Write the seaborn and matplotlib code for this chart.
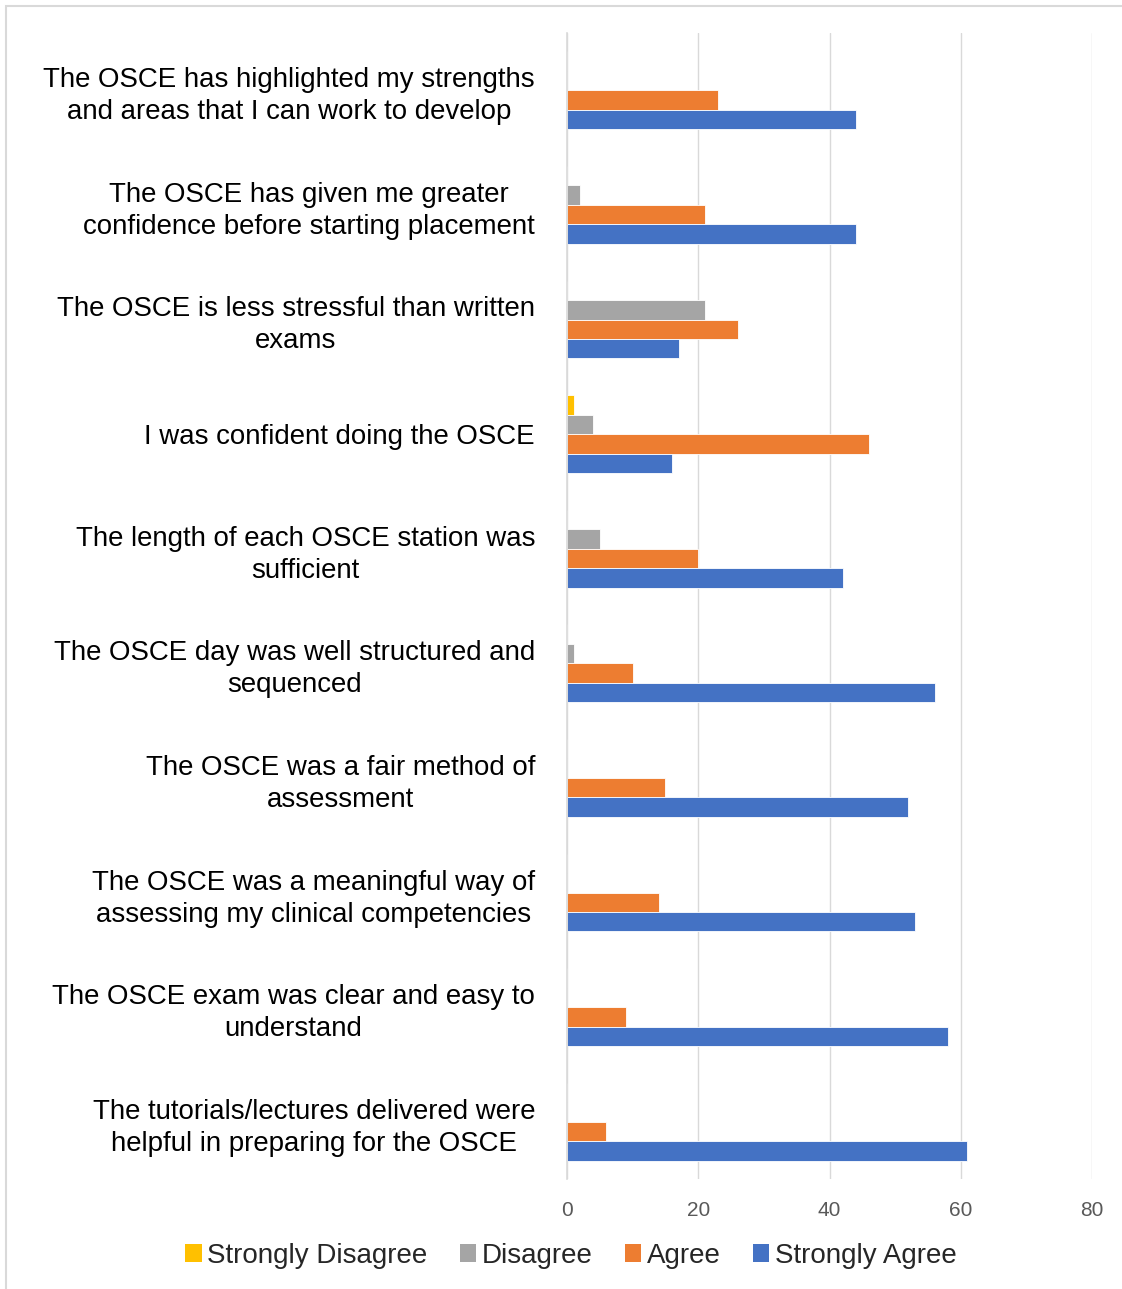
import matplotlib
matplotlib.use("Agg")
import matplotlib.pyplot as plt
import matplotlib.patches as mpatches
import seaborn as sns
import pandas as pd

categories = [
    "The OSCE has highlighted my strengths\nand areas that I can work to develop",
    "The OSCE has given me greater\nconfidence before starting placement",
    "The OSCE is less stressful than written\nexams",
    "I was confident doing the OSCE",
    "The length of each OSCE station was\nsufficient",
    "The OSCE day was well structured and\nsequenced",
    "The OSCE was a fair method of\nassessment",
    "The OSCE was a meaningful way of\nassessing my clinical competencies",
    "The OSCE exam was clear and easy to\nunderstand",
    "The tutorials/lectures delivered were\nhelpful in preparing for the OSCE",
]
series_names = ["Strongly Disagree", "Disagree", "Agree", "Strongly Agree"]
strongly_disagree = [0, 0, 0, 1, 0, 0, 0, 0, 0, 0]
disagree = [0, 2, 21, 4, 5, 1, 0, 0, 0, 0]
agree = [23, 21, 26, 46, 20, 10, 15, 14, 9, 6]
strongly_agree = [44, 44, 17, 16, 42, 56, 52, 53, 58, 61]
x_ticks = [0, 20, 40, 60, 80]
colors = ["#FFC000", "#A5A5A5", "#ED7D31", "#4472C4"]

rows = []
for name, vals in zip(series_names, [strongly_disagree, disagree, agree, strongly_agree]):
    for c, v in zip(categories, vals):
        rows.append({"category": c, "series": name, "value": v})
df = pd.DataFrame(rows)

sns.set_theme(style="white")
plt.rcParams["font.family"] = ["Liberation Sans", "DejaVu Sans"]

fig = plt.figure(figsize=(11.22, 12.89), dpi=100)
ax = fig.add_axes([567/1122, 1 - 1179/1289, (1092 - 567)/1122, (1179 - 33)/1289])

sns.barplot(data=df, y="category", x="value", hue="series", order=categories,
            hue_order=series_names, palette=colors, saturation=1, orient="h", width=0.68,
            edgecolor="white", linewidth=0.6, ax=ax, legend=False)

ax.set_xlim(0, 80)
ax.set_xticks(x_ticks)
ax.set_xlabel("")
ax.set_ylabel("")
ax.grid(axis="x", color="#d9d9d9", linewidth=1.0)
ax.set_axisbelow(True)
for s in ["top", "right", "bottom"]:
    ax.spines[s].set_visible(False)
ax.spines["left"].set_color("#d9d9d9")
ax.spines["left"].set_linewidth(1.2)
ax.tick_params(axis="x", length=0, labelsize=15, labelcolor="#595959", pad=16)
ax.tick_params(axis="y", length=0, labelsize=19.9, labelcolor="black", pad=23)
for lab in ax.get_yticklabels():
    lab.set_multialignment("center")
    lab.set_linespacing(1.3)

handles = [mpatches.Patch(facecolor=c, edgecolor="none", label=n) for c, n in zip(colors, series_names)]
fig.legend(handles=handles, loc="center", bbox_to_anchor=(571/1122, 1 - 1256/1289), ncol=4,
           frameon=False, fontsize=20, handlelength=0.6, handleheight=0.6,
           handletextpad=0.2, columnspacing=1.15)

border = mpatches.Rectangle((6/1122, -0.05), 1.2, 1 - 6/1289 + 0.05, transform=fig.transFigure,
                            fill=False, edgecolor="#d9d9d9", linewidth=1.5)
fig.patches.append(border)

fig.savefig("out.png", dpi=100, facecolor="white")
